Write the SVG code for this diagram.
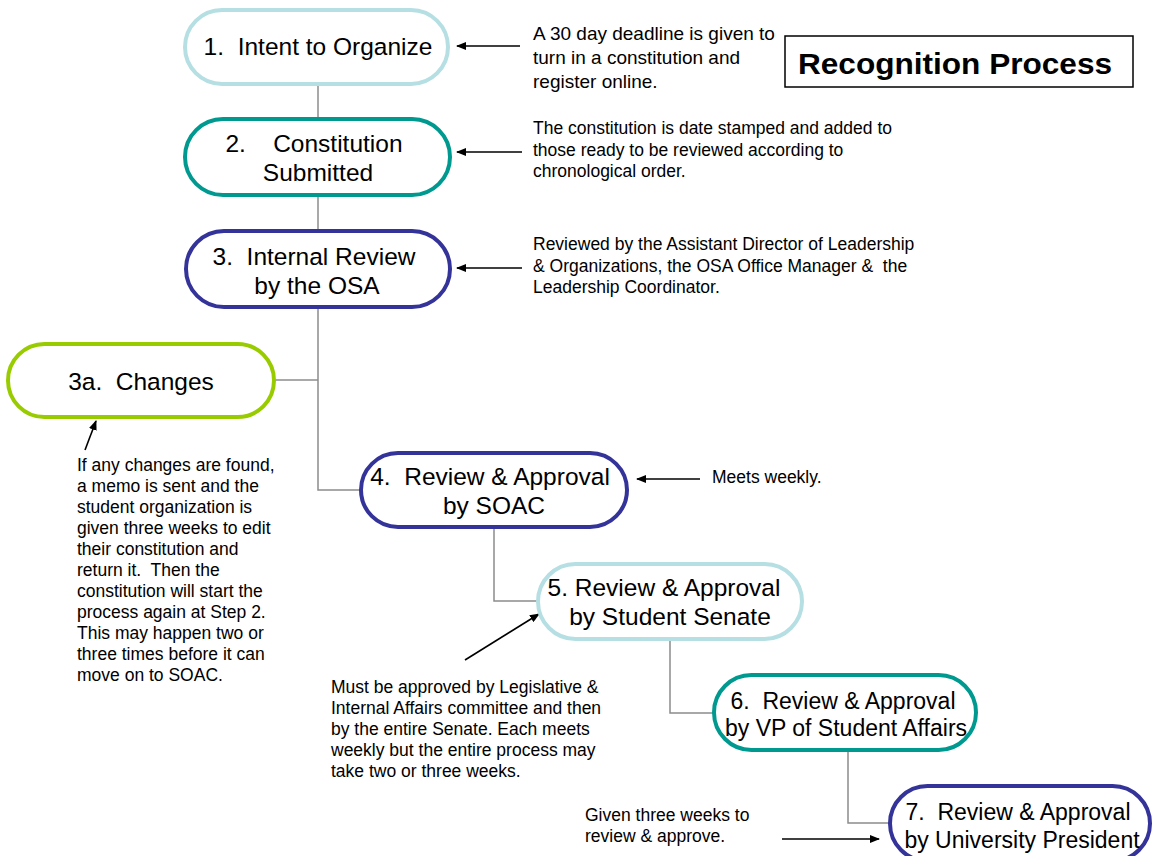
<svg xmlns="http://www.w3.org/2000/svg" width="1152" height="856" viewBox="0 0 1152 856">
<defs>
<marker id="ah" viewBox="0 0 10 8" refX="9" refY="4" markerWidth="10" markerHeight="8" markerUnits="userSpaceOnUse" orient="auto">
<path d="M0,0 L10,4 L0,8 z" fill="#000"/>
</marker>
</defs>
<style>
.node{fill:#fff;stroke-width:4}
.lb{stroke:#b5dfe3}
.tl{stroke:#00998f}
.db{stroke:#333399}
.gr{stroke:#99cc00}
.nt{font-family:"Liberation Sans",Arial,sans-serif;font-size:24.5px;fill:#000;text-anchor:middle}
.nt2{font-family:"Liberation Sans",Arial,sans-serif;font-size:23px;fill:#000;text-anchor:middle}
.an{font-family:"Liberation Sans",Arial,sans-serif;font-size:17.5px;fill:#000}
.an19{font-family:"Liberation Sans",Arial,sans-serif;font-size:19px;fill:#000}
.conn{fill:none;stroke:#8c8c8c;stroke-width:1.5}
.arr{fill:none;stroke:#000;stroke-width:1.6;marker-end:url(#ah)}
</style>
<rect width="1152" height="856" fill="#fff"/>
<g id="connectors">
<path class="conn" d="M318,84 V119"/>
<path class="conn" d="M318,195 V231"/>
<path class="conn" d="M318,307 V490 H361"/>
<path class="conn" d="M274,380 H318"/>
<path class="conn" d="M494,527 V601 H538"/>
<path class="conn" d="M670,639 V713 H714"/>
<path class="conn" d="M848,750 V823 H890"/>
</g>
<g id="arrows">
<path class="arr" d="M520,46 H457"/>
<path class="arr" d="M522,152 H457"/>
<path class="arr" d="M522,268 H457"/>
<path class="arr" d="M85,450 L96,421"/>
<path class="arr" d="M700,479 H637"/>
<path class="arr" d="M465,660 L539,614"/>
<path class="arr" d="M782,839 H879"/>
</g>
<g id="node1">
<rect class="node lb" x="185" y="10" width="263" height="74" rx="37"/>
<text class="nt" x="318" y="55" xml:space="preserve">1.  Intent to Organize</text>
</g>
<g id="node2">
<rect class="node tl" x="185" y="119" width="265" height="76" rx="38"/>
<text class="nt" x="314" y="152" xml:space="preserve">2.    Constitution</text>
<text class="nt" x="318" y="181">Submitted</text>
</g>
<g id="node3">
<rect class="node db" x="186" y="231" width="264" height="76" rx="38"/>
<text class="nt" x="314" y="265" xml:space="preserve">3.  Internal Review</text>
<text class="nt" x="317" y="294">by the OSA</text>
</g>
<g id="node3a">
<rect class="node gr" x="8" y="344" width="266" height="73" rx="36.5"/>
<text class="nt" x="141" y="390" xml:space="preserve">3a.  Changes</text>
</g>
<g id="node4">
<rect class="node db" x="361" y="453" width="266" height="74" rx="37"/>
<text class="nt" x="490" y="485" xml:space="preserve">4.  Review &amp; Approval</text>
<text class="nt" x="494" y="514">by SOAC</text>
</g>
<g id="node5">
<rect class="node lb" x="538" y="564" width="264" height="75" rx="37.5"/>
<text class="nt" x="664" y="596">5. Review &amp; Approval</text>
<text class="nt" x="670" y="625">by Student Senate</text>
</g>
<g id="node6">
<rect class="node tl" x="714" y="675" width="262" height="75" rx="37.5"/>
<text class="nt2" x="843" y="709" xml:space="preserve">6.  Review &amp; Approval</text>
<text class="nt2" x="846" y="736">by VP of Student Affairs</text>
</g>
<g id="node7">
<rect class="node db" x="890" y="786" width="260" height="75" rx="37.5"/>
<text class="nt2" x="1018" y="820" xml:space="preserve">7.  Review &amp; Approval</text>
<text class="nt2" x="1022" y="848">by University President</text>
</g>
<g id="title">
<rect x="785" y="36" width="348" height="51" fill="#fff" stroke="#000" stroke-width="1.5"/>
<text x="955" y="74" font-family="Liberation Sans,Arial,sans-serif" font-size="30" font-weight="bold" text-anchor="middle" textLength="314" lengthAdjust="spacingAndGlyphs">Recognition Process</text>
</g>
<g id="notes">
<text class="an19" x="533" y="40">A 30 day deadline is given to</text>
<text class="an19" x="533" y="64">turn in a constitution and</text>
<text class="an19" x="533" y="88">register online.</text>
<text class="an" x="533" y="134">The constitution is date stamped and added to</text>
<text class="an" x="533" y="155.5">those ready to be reviewed according to</text>
<text class="an" x="533" y="177">chronological order.</text>
<text class="an" x="533" y="250">Reviewed by the Assistant Director of Leadership</text>
<text class="an" x="533" y="271.5" xml:space="preserve">&amp; Organizations, the OSA Office Manager &amp;  the</text>
<text class="an" x="533" y="293">Leadership Coordinator.</text>
<text class="an" x="712" y="483">Meets weekly.</text>
<text class="an" x="77" y="471">If any changes are found,</text>
<text class="an" x="77" y="492">a memo is sent and the</text>
<text class="an" x="77" y="513">student organization is</text>
<text class="an" x="77" y="534">given three weeks to edit</text>
<text class="an" x="77" y="555">their constitution and</text>
<text class="an" x="77" y="576" xml:space="preserve">return it.  Then the</text>
<text class="an" x="77" y="597">constitution will start the</text>
<text class="an" x="77" y="618">process again at Step 2.</text>
<text class="an" x="77" y="639">This may happen two or</text>
<text class="an" x="77" y="660">three times before it can</text>
<text class="an" x="77" y="681">move on to SOAC.</text>
<text class="an" x="331" y="693">Must be approved by Legislative &amp;</text>
<text class="an" x="331" y="714">Internal Affairs committee and then</text>
<text class="an" x="331" y="735">by the entire Senate. Each meets</text>
<text class="an" x="331" y="756">weekly but the entire process may</text>
<text class="an" x="331" y="777">take two or three weeks.</text>
<text class="an" x="585" y="821">Given three weeks to</text>
<text class="an" x="585" y="842">review &amp; approve.</text>
</g>
</svg>
